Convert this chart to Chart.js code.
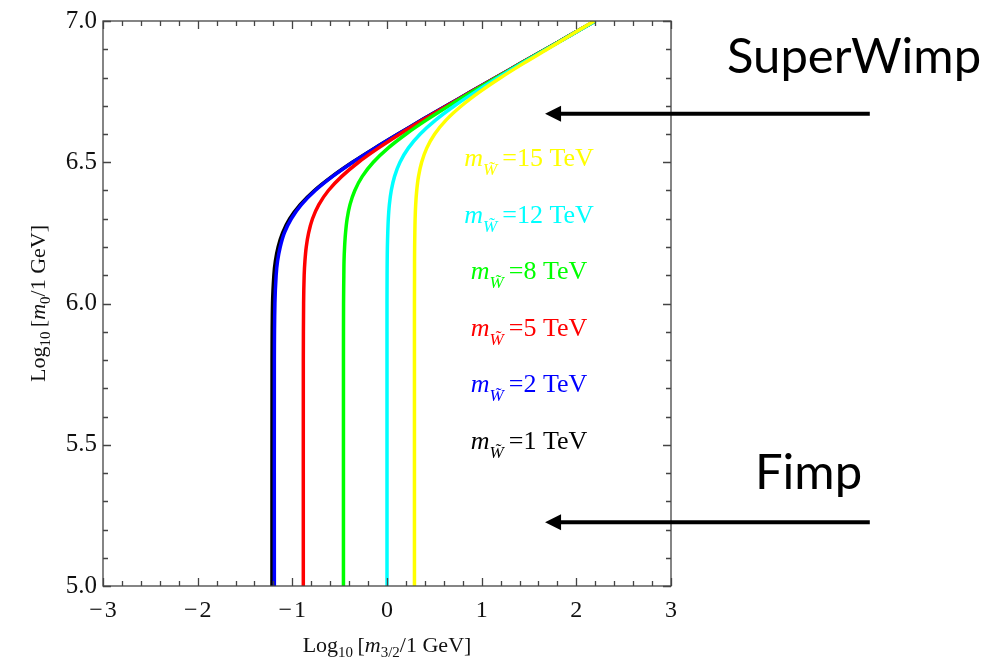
<!DOCTYPE html>
<html>
<head>
<meta charset="utf-8">
<script src="https://cdn.jsdelivr.net/npm/chart.js@4.4.0/dist/chart.umd.min.js"></script>
<style>
html, body { margin: 0; padding: 0; background: #fff; }
</style>
</head>
<body>
<canvas id="myChart" width="1005" height="660"></canvas>
<script>
// m0 values shared by every curve
const yGrid = [5.0, 5.8, 6.0, 6.1, 6.15, 6.2, 6.25, 6.3, 6.35, 6.4, 6.45, 6.5, 6.55, 6.6, 6.65, 6.7, 6.75, 6.8, 6.85, 6.9, 6.95, 7.0];

// m3/2
const xBlack = [-1.215, -1.214, -1.209, -1.195, -1.179, -1.150, -1.103, -1.028, -0.917, -0.767, -0.580, -0.366, -0.131, 0.116, 0.369, 0.627, 0.888, 1.149, 1.411, 1.675, 1.937, 2.200];
const xBlue = [-1.190, -1.190, -1.184, -1.171, -1.156, -1.128, -1.084, -1.011, -0.904, -0.758, -0.574, -0.362, -0.129, 0.117, 0.370, 0.628, 0.888, 1.149, 1.411, 1.675, 1.937, 2.200];
const xRed = [-0.884, -0.884, -0.881, -0.875, -0.867, -0.853, -0.828, -0.787, -0.720, -0.619, -0.478, -0.301, -0.092, 0.138, 0.382, 0.635, 0.892, 1.151, 1.412, 1.675, 1.938, 2.200];
const xGreen = [-0.460, -0.460, -0.459, -0.456, -0.454, -0.448, -0.438, -0.421, -0.391, -0.340, -0.261, -0.145, 0.011, 0.202, 0.419, 0.656, 0.904, 1.158, 1.416, 1.677, 1.939, 2.201];
const xCyan = [0.000, 0.000, 0.000, 0.001, 0.002, 0.004, 0.008, 0.014, 0.025, 0.045, 0.080, 0.137, 0.225, 0.351, 0.516, 0.714, 0.938, 1.177, 1.427, 1.683, 1.942, 2.203];
const xYellow = [0.290, 0.290, 0.290, 0.291, 0.291, 0.292, 0.294, 0.297, 0.303, 0.314, 0.333, 0.366, 0.420, 0.504, 0.626, 0.788, 0.983, 1.204, 1.442, 1.692, 1.940, 2.190];

// labels inside the plot (top to bottom)
const winoMass = ['15', '12', '8', '5', '2', '1'];
const labelColors = ['#ffff00', '#00ffff', '#00ff00', '#ff0000', '#0000ff', '#000000'];
const labelY = [6.485, 6.285, 6.085, 5.885, 5.685, 5.485];
const labelX = 1.5;

const xTicks = [-3, -2, -1, 0, 1, 2, 3];
const yTicks = [5.0, 5.5, 6.0, 6.5, 7.0];

const serif = '"Liberation Serif", "DejaVu Serif", serif';

function makeSet(xs, color, order) {
    return {
        data: xs.map((x, i) => ({ x: x, y: yGrid[i] })),
        borderColor: color,
        backgroundColor: color,
        borderWidth: 3.5,
        pointRadius: 0,
        showLine: true,
        tension: 0.3,
        order: order
    };
}

function drawParts(ctx, parts, x, y, align) {
    let w = 0;
    parts.forEach(p => { ctx.font = p.font; p.w = ctx.measureText(p.text).width; w += p.w; });
    let cx = align === 'center' ? x - w / 2 : x;
    parts.forEach(p => {
        ctx.font = p.font;
        ctx.fillText(p.text, cx, y + (p.dy || 0));
        cx += p.w;
    });
}

function arrow(ctx, x1, x2, y) {
    ctx.strokeStyle = '#000';
    ctx.fillStyle = '#000';
    ctx.lineWidth = 4;
    ctx.beginPath();
    ctx.moveTo(x2, y);
    ctx.lineTo(x1 + 14, y);
    ctx.stroke();
    ctx.beginPath();
    ctx.moveTo(x1, y);
    ctx.lineTo(x1 + 16, y - 8);
    ctx.lineTo(x1 + 16, y + 8);
    ctx.closePath();
    ctx.fill();
}

const framePlugin = {
    id: 'frame',
    afterDraw(chart) {
        const { ctx, chartArea: a, scales: { x, y } } = chart;
        ctx.save();
        ctx.strokeStyle = '#444';
        ctx.lineWidth = 1.3;
        ctx.strokeRect(a.left, a.top, a.right - a.left, a.bottom - a.top);
        ctx.beginPath();
        for (let i = 0; i <= 30; i++) {
            const px = Math.round(x.getPixelForValue(-3 + i * 0.2)) + 0.5;
            const len = i % 5 === 0 ? 8 : 5;
            ctx.moveTo(px, a.bottom); ctx.lineTo(px, a.bottom - len);
            ctx.moveTo(px, a.top); ctx.lineTo(px, a.top + len);
        }
        for (let i = 0; i <= 20; i++) {
            const py = Math.round(y.getPixelForValue(5 + i * 0.1)) + 0.5;
            const len = i % 5 === 0 ? 8 : 5;
            ctx.moveTo(a.left, py); ctx.lineTo(a.left + len, py);
            ctx.moveTo(a.right, py); ctx.lineTo(a.right - len, py);
        }
        ctx.stroke();

        // curve labels
        ctx.textBaseline = 'alphabetic';
        winoMass.forEach((m, i) => {
            ctx.fillStyle = labelColors[i];
            drawParts(ctx, [
                { text: 'm', font: 'italic 26px ' + serif },
                { text: 'W\u0303', font: 'italic 17px ' + serif, dy: 9 },
                { text: '\u2009=' + m + ' TeV', font: '26px ' + serif }
            ], x.getPixelForValue(labelX), y.getPixelForValue(labelY[i]), 'center');
        });

        // axis titles
        ctx.fillStyle = '#111';
        drawParts(ctx, [
            { text: 'Log', font: '22px ' + serif },
            { text: '10', font: '15px ' + serif, dy: 5 },
            { text: '\u2009[', font: '22px ' + serif },
            { text: 'm', font: 'italic 22px ' + serif },
            { text: '3/2', font: '15px ' + serif, dy: 5 },
            { text: '/1 GeV]', font: '22px ' + serif }
        ], (a.left + a.right) / 2, 652, 'center');

        ctx.save();
        ctx.translate(45, (a.top + a.bottom) / 2);
        ctx.rotate(-Math.PI / 2);
        drawParts(ctx, [
            { text: 'Log', font: '22px ' + serif },
            { text: '10', font: '15px ' + serif, dy: 5 },
            { text: '\u2009[', font: '22px ' + serif },
            { text: 'm', font: 'italic 22px ' + serif },
            { text: '0', font: '15px ' + serif, dy: 5 },
            { text: '/1 GeV]', font: '22px ' + serif }
        ], 0, 0, 'center');
        ctx.restore();

        // annotations on the right
        ctx.fillStyle = '#000';
        ctx.font = '49px Lato, "Noto Sans", sans-serif';
        ctx.fillText('SuperWimp', 727, 73);
        ctx.fillText('Fimp', 755, 489);
        arrow(ctx, x.getPixelForValue(1.67), x.getPixelForValue(5.1), y.getPixelForValue(6.672));
        arrow(ctx, x.getPixelForValue(1.67), x.getPixelForValue(5.1), y.getPixelForValue(5.226));
        ctx.restore();
    }
};

var ctx = document.getElementById('myChart').getContext('2d');

var myChart = new Chart(ctx, {
    type: 'scatter',
    data: {
        datasets: [
            makeSet(xBlack, '#000000', 6),
            makeSet(xBlue, '#0000ff', 5),
            makeSet(xRed, '#ff0000', 4),
            makeSet(xGreen, '#00ff00', 3),
            makeSet(xCyan, '#00ffff', 2),
            makeSet(xYellow, '#ffff00', 1)
        ]
    },
    options: {
        responsive: false,
        animation: false,
        layout: { padding: { left: 0, right: 334, top: 19, bottom: 0 } },
        plugins: {
            legend: { display: false },
            tooltip: { enabled: false }
        },
        scales: {
            x: {
                type: 'linear',
                min: -3,
                max: 3,
                grid: { display: false, drawTicks: false },
                border: { display: false },
                afterBuildTicks: s => { s.ticks = xTicks.map(v => ({ value: v })); },
                afterFit: s => { s.height = 74; },
                ticks: {
                    padding: 10,
                    maxRotation: 0,
                    color: '#111',
                    font: { family: serif, size: 24 },
                    callback: v => v < 0 ? '\u2212\u200A' + Math.abs(v) : String(v)
                }
            },
            y: {
                min: 5,
                max: 7,
                grid: { display: false, drawTicks: false },
                border: { display: false },
                afterBuildTicks: s => { s.ticks = yTicks.map(v => ({ value: v })); },
                afterFit: s => { s.width = 103; },
                ticks: {
                    padding: 6,
                    color: '#111',
                    font: { family: serif, size: 25 },
                    callback: v => v.toFixed(1)
                }
            }
        }
    },
    plugins: [framePlugin]
});
</script>
</body>
</html>
